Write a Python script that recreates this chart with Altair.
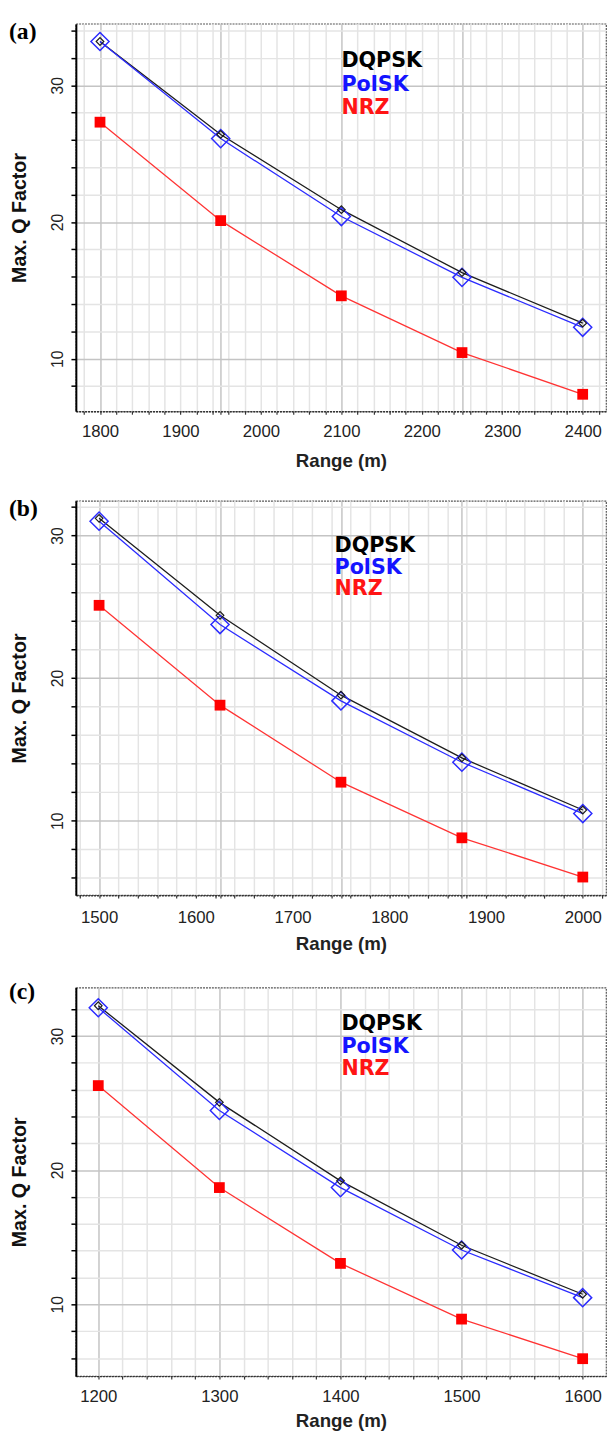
import altair as alt
import pandas as pd

# ---------------- data ----------------
series_names = ["DQPSK", "PolSK", "NRZ"]

range_a = [1800, 1950, 2100, 2250, 2400]
dqpsk_a = [33.2, 26.4, 20.9, 16.3, 12.6]
polsk_a = [33.2, 26.1, 20.4, 15.95, 12.3]
nrz_a = [27.3, 20.1, 14.6, 10.45, 7.4]

range_b = [1500, 1625, 1750, 1875, 2000]
dqpsk_b = [31.2, 24.4, 18.8, 14.4, 10.75]
polsk_b = [31.0, 23.75, 18.4, 14.1, 10.5]
nrz_b = [25.1, 18.1, 12.7, 8.8, 6.05]

range_c = [1200, 1300, 1400, 1500, 1600]
dqpsk_c = [32.25, 25.05, 19.2, 14.4, 10.75]
polsk_c = [32.1, 24.45, 18.7, 14.05, 10.5]
nrz_c = [26.3, 18.7, 13.05, 8.9, 5.95]

panel_tags = ["(a)", "(b)", "(c)"]
x_title = "Range (m)"
y_title = "Max. Q Factor"

# ---------------- styling ----------------
COL = {"DQPSK": "#1c1c1c", "PolSK": "#2b2bff", "NRZ": "#ff3333"}
LEG_COL = {"DQPSK": "#000000", "PolSK": "#1414ff", "NRZ": "#ff1414"}
GRID_LIGHT = "#e4e4e4"
GRID_DARK = "#c4c4c4"
PLOT_W = 539


def make_panel(tag, xs, dq, po, nr, xdom, ydom, xgrid, ygrid, height,
               leg_x, leg_ys, tag_y, lab_pad, title_pad):
    rows = []
    for name, vals in zip(series_names, [dq, po, nr]):
        for x, v in zip(xs, vals):
            rows.append({"range": x, "q": v, "series": name})
    df = pd.DataFrame(rows)

    xvals = sorted(set(xgrid) | set(xs))
    major_test = "indexof([" + ",".join(str(v) for v in xs) + "], datum.value) >= 0"

    x_enc = alt.X(
        "range:Q",
        title=x_title,
        scale=alt.Scale(domain=xdom, nice=False, zero=False),
        axis=alt.Axis(
            values=xvals, format="d",
            labelExpr="datum.value % 100 === 0 ? datum.label : ''",
            grid=True, gridWidth=1.5,
            gridColor={"condition": {"test": major_test, "value": GRID_DARK},
                       "value": GRID_LIGHT},
            domainColor="#333333", domainDash=[2, 1], domainWidth=1.5,
            tickColor="#333333", tickSize=3, tickWidth=1.2,
            labelFont="Liberation Sans", labelFontSize=17, labelColor="#222222",
            labelPadding=lab_pad, labelFlush=False, labelOverlap=False,
            titleFont="Liberation Sans", titleFontSize=19, titleFontWeight="bold",
            titleColor="#222222", titlePadding=title_pad,
        ),
    )
    y_enc = alt.Y(
        "q:Q",
        title=y_title,
        scale=alt.Scale(domain=ydom, nice=False, zero=False),
        axis=alt.Axis(
            values=ygrid,
            labelExpr="datum.value % 10 === 0 ? datum.label : ''",
            grid=True, gridWidth=1.5,
            gridColor={"condition": {"test": "datum.value % 10 === 0", "value": GRID_DARK},
                       "value": GRID_LIGHT},
            domainColor="#000000", domainWidth=2,
            tickColor="#000000", tickSize=5, tickWidth=1.5,
            labelAngle=270, labelAlign="center", labelBaseline="bottom",
            labelFont="Liberation Sans", labelFontSize=16, labelColor="#222222",
            labelPadding=6, labelOverlap=False,
            titleFont="Liberation Sans", titleFontSize=20, titleFontWeight="bold",
            titleColor="#111111", titlePadding=20,
        ),
    )

    base = alt.Chart(df).encode(x=x_enc, y=y_enc)

    lines = base.mark_line(strokeWidth=1.3).encode(
        color=alt.Color("series:N",
                        scale=alt.Scale(domain=series_names,
                                        range=[COL[s] for s in series_names]),
                        legend=None),
        detail="series:N",
    )
    pol_pts = base.transform_filter(alt.datum.series == "PolSK").mark_point(
        shape="diamond", size=340, filled=False, strokeWidth=1.5,
        color=COL["PolSK"], opacity=1)
    dq_pts = base.transform_filter(alt.datum.series == "DQPSK").mark_point(
        shape="diamond", size=60, filled=False, strokeWidth=1.2,
        color=COL["DQPSK"], opacity=1)
    nrz_pts = base.transform_filter(alt.datum.series == "NRZ").mark_square(
        size=120, color="#ff0000", opacity=1)

    layers = [lines, pol_pts, dq_pts, nrz_pts]

    for name, ly in zip(series_names, leg_ys):
        layers.append(
            alt.Chart(pd.DataFrame({"label": [name]})).mark_text(
                font="DejaVu Sans", fontWeight="bold", fontSize=21,
                color=LEG_COL[name], align="left", baseline="middle",
            ).encode(text="label:N", x=alt.value(leg_x), y=alt.value(ly))
        )

    layers.append(
        alt.Chart(pd.DataFrame({"label": [tag]})).mark_text(
            font="Liberation Serif", fontWeight="bold", fontSize=24,
            color="#000000", align="left", baseline="middle",
        ).encode(text="label:N", x=alt.value(-68), y=alt.value(tag_y))
    )

    return alt.layer(*layers).properties(width=PLOT_W, height=height)


pa = make_panel(panel_tags[0], range_a, dqpsk_a, polsk_a, nrz_a,
                [1770, 2429], [6.16, 34.5],
                list(range(1780, 2421, 20)), list(range(8, 35, 2)),
                394, 270, [38, 62, 86], 9, 10, 12)
pb = make_panel(panel_tags[1], range_b, dqpsk_b, polsk_b, nrz_b,
                [1476, 2024], [4.78, 32.43],
                list(range(1480, 2021, 20)), list(range(6, 33, 2)),
                401, 263, [46, 68, 90], 8.5, 12, 9.5)
pc = make_panel(panel_tags[2], range_c, dqpsk_c, polsk_c, nrz_c,
                [1181.5, 1619.3], [4.65, 33.6],
                list(range(1200, 1601, 20)), list(range(6, 34, 2)),
                395, 270, [37, 60, 83], 5, 10, 7)

chart = alt.vconcat(pa, pb, pc, spacing=25).properties(
    padding={"top": 0, "left": 0, "right": 0, "bottom": 0}
).configure(background="white").configure_view(
    stroke="#555555", strokeDash=[2, 1], strokeWidth=1.2
)

chart.save("out.html", embed_options={"renderer": "svg", "actions": False})
